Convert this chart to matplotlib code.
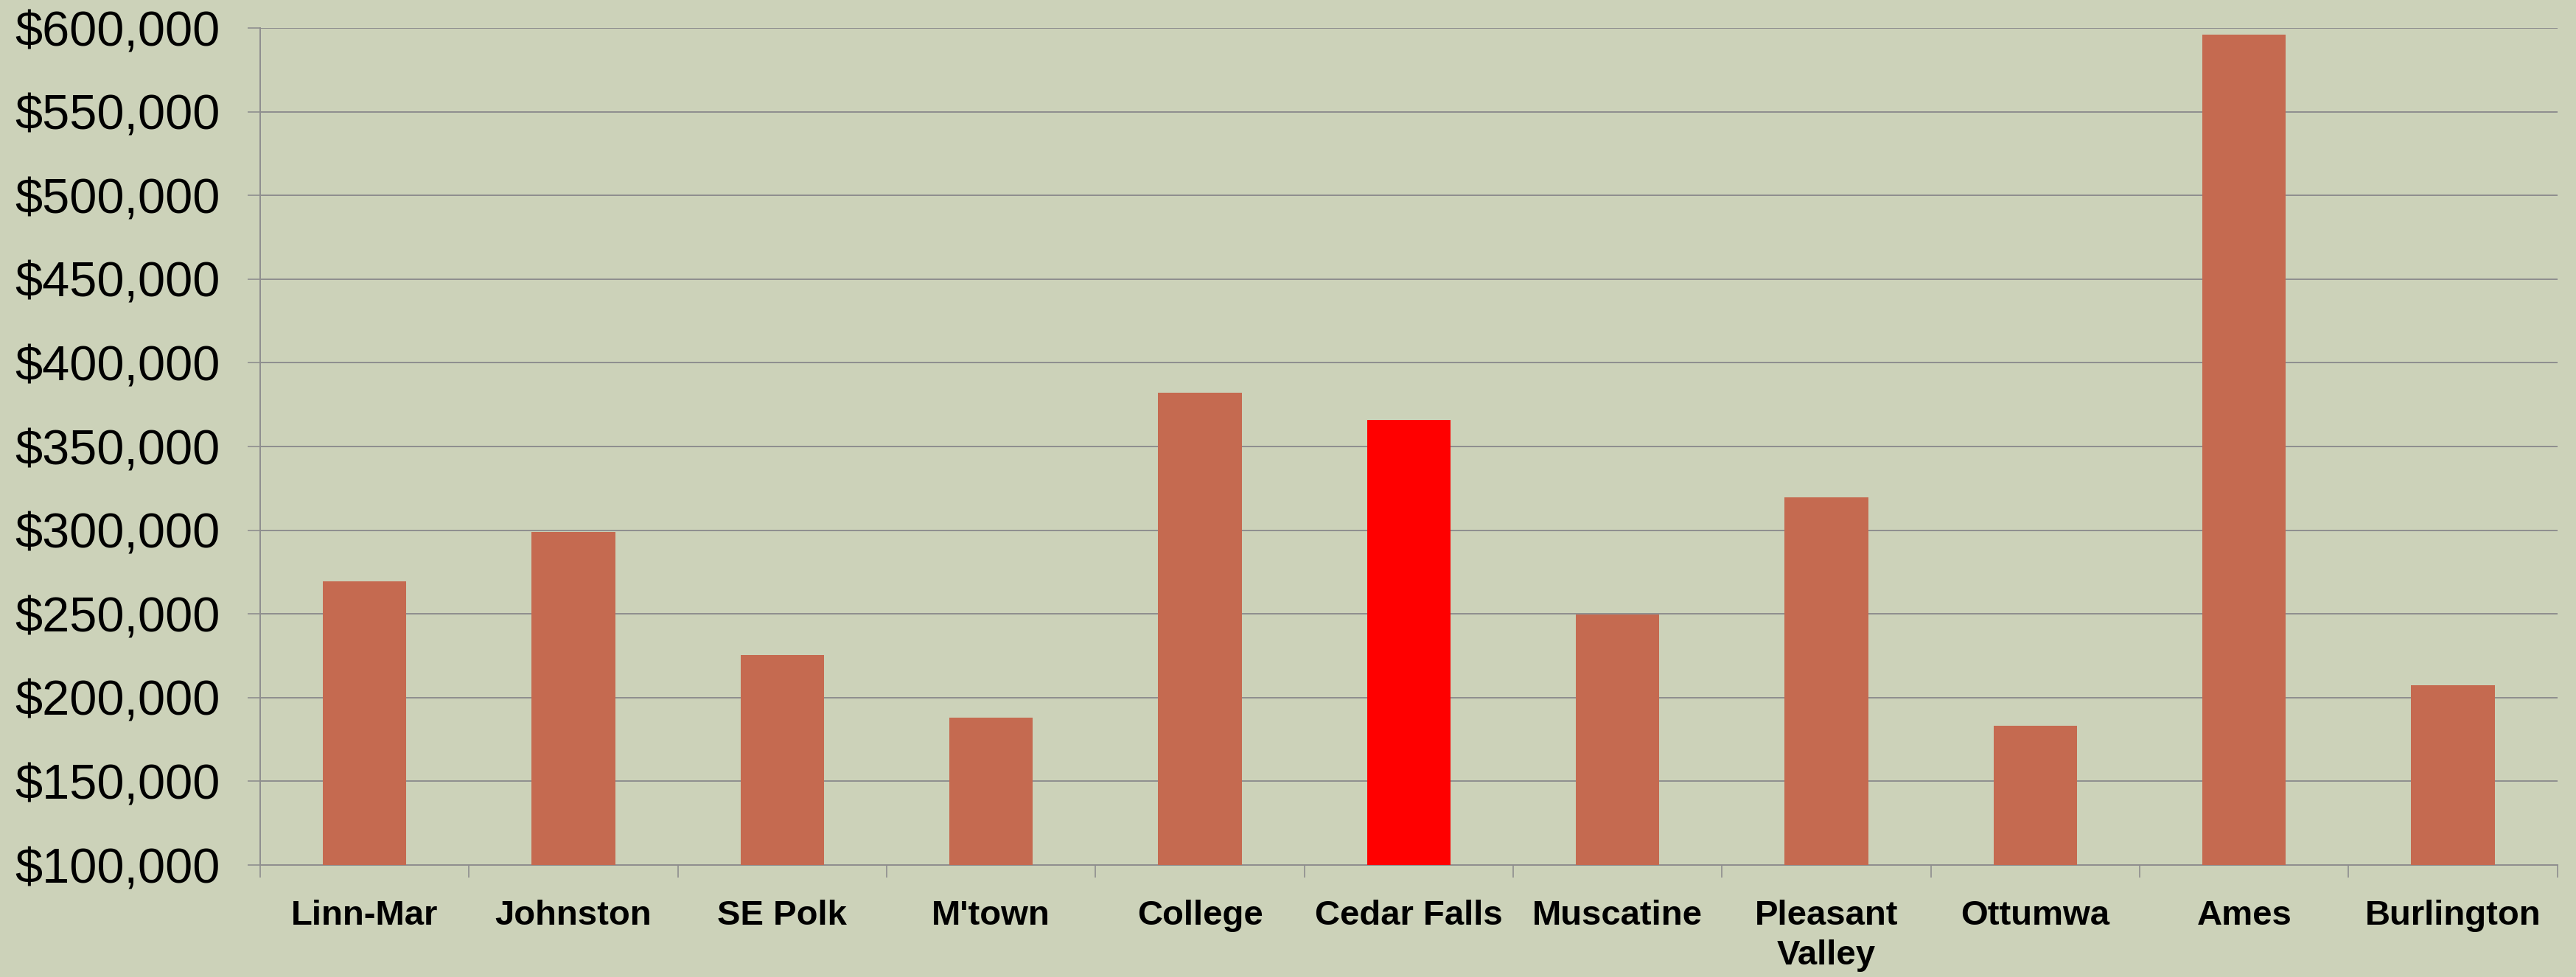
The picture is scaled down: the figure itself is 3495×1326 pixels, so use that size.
import numpy as np
import matplotlib
matplotlib.use('Agg')
import matplotlib.pyplot as plt


schools = ['Linn-Mar', 'Johnston', 'SE Polk', "M'town", 'College', 'Cedar Falls',
           'Muscatine', 'Pleasant\nValley', 'Ottumwa', 'Ames', 'Burlington']
salary = [269300, 298800, 225600, 188000, 382000, 365800,
          249500, 319500, 183000, 596000, 207600]
highlight = 'Cedar Falls'

yticks = np.arange(100000, 600001, 50000)

bg = '#CCD2B9'
bar_color = '#C56A50'
grid_color = '#8E8E8E'

fig = plt.figure(figsize=(34.95, 13.26), dpi=100, facecolor=bg)
ax = fig.add_axes([0.101, 0.1146, 0.8918, 0.8567])
ax.set_facecolor(bg)

x = np.arange(len(schools))
colors = ['#FF0000' if s == highlight else bar_color for s in schools]
ax.bar(x, [v - 100000 for v in salary], bottom=100000, width=0.4,
       color=colors, zorder=3)

ax.set_ylim(100000, 600000)
ax.set_xlim(-0.5, len(schools) - 0.5)

ax.set_yticks(yticks)
ax.set_yticklabels([f'${v:,.0f}' for v in yticks], fontsize=48,
                   family=['Liberation Sans', 'DejaVu Sans'])
ax.yaxis.grid(True, color=grid_color, linewidth=1.4, zorder=1)
ax.tick_params(axis='y', length=12, width=1.2, color=grid_color, pad=27)

# category boundaries get the tick marks, names sit between them
ax.set_xticks(np.arange(-0.5, len(schools), 1))
ax.set_xticklabels([])
ax.set_xticks(x, minor=True)
ax.set_xticklabels(schools, minor=True, fontsize=34, fontweight='bold',
                   family=['Liberation Sans', 'DejaVu Sans'],
                   linespacing=1.3)
ax.tick_params(axis='x', which='major', length=12, width=1.2, color=grid_color)
ax.tick_params(axis='x', which='minor', length=0, pad=34)
for lab in ax.get_xticklabels(minor=True):
    lab.set_verticalalignment('top')

for side in ['top', 'right']:
    ax.spines[side].set_visible(False)
for side in ['left', 'bottom']:
    ax.spines[side].set_color(grid_color)
    ax.spines[side].set_linewidth(1.4)

plt.savefig('out.png', dpi=100, facecolor=bg)
